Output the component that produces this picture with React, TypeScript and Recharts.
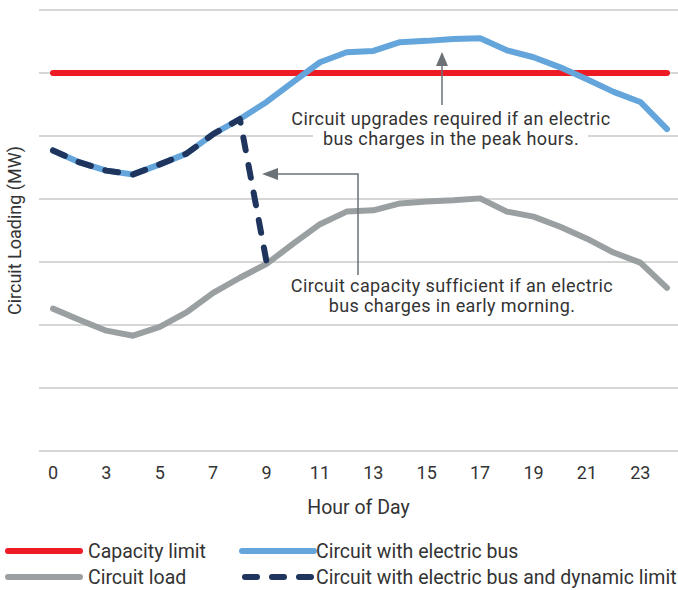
import React from 'react';
import { LineChart, Line, XAxis, YAxis, CartesianGrid } from 'recharts';

const hours = [0, 1, 2, 3, 4, 5, 6, 7, 8, 9, 10, 11, 12, 13, 14, 15, 16, 17, 18, 19, 20, 21, 22, 23];
const xTickLabels = ['0', '3', '5', '7', '9', '11', '13', '15', '17', '19', '21', '23'];
const yTicks = [0, 1, 2, 3, 4, 5, 6, 7];

const capacityLimit = [6, 6, 6, 6, 6, 6, 6, 6, 6, 6, 6, 6, 6, 6, 6, 6, 6, 6, 6, 6, 6, 6, 6, 6];
const circuitLoad = [2.26, 2.08, 1.91, 1.83, 1.97, 2.2, 2.51, 2.75, 2.97, 3.29, 3.6, 3.8, 3.82, 3.93, 3.96, 3.98, 4.01, 3.8, 3.72, 3.56, 3.37, 3.15, 2.99, 2.59];
const circuitWithBus = [4.77, 4.58, 4.45, 4.39, 4.55, 4.72, 5.03, 5.27, 5.54, 5.86, 6.17, 6.33, 6.35, 6.49, 6.51, 6.54, 6.55, 6.36, 6.25, 6.09, 5.9, 5.7, 5.54, 5.11];
const busDynamicLimit = [4.77, 4.58, 4.45, 4.39, 4.55, 4.72, 5.03, 5.27, 3.0, null, null, null, null, null, null, null, null, null, null, null, null, null, null, null];

const RED = '#ed1c24';
const BLUE = '#64a5db';
const GRAY = '#9a9fa1';
const NAVY = '#1f355e';
const TEXT = '#333333';
const ARROW = '#6b7277';
const FONT = 'Roboto, "Noto Sans", sans-serif';

const data = hours.map((h, i) => ({
  hour: h,
  limit: capacityLimit[i],
  load: circuitLoad[i],
  bus: circuitWithBus[i],
  dyn: busDynamicLimit[i],
}));

const legendItems = [
  { label: 'Capacity limit', color: RED, dashed: false, col: 0, row: 0 },
  { label: 'Circuit with electric bus', color: BLUE, dashed: false, col: 1, row: 0 },
  { label: 'Circuit load', color: GRAY, dashed: false, col: 0, row: 1 },
  { label: 'Circuit with electric bus and dynamic limit', color: NAVY, dashed: true, col: 1, row: 1 },
];

const annStyle = { fill: TEXT, fontSize: 18, fontFamily: FONT, letterSpacing: 0.4 };

export default function App() {
  return (
    <div style={{ position: 'absolute', left: 0, top: 0, width: 678, height: 590, background: '#fff', fontFamily: FONT }}>
      <LineChart width={678} height={530} data={data} margin={{ top: 10, right: 0, left: 0, bottom: 0 }}>
        <CartesianGrid vertical={false} stroke="#c8c8c8" strokeWidth={1.5} />
        <YAxis
          type="number"
          domain={[0, 7]}
          ticks={yTicks}
          width={39}
          tickFormatter={() => ''}
          tick={{ fill: 'transparent', fontSize: 1 }}
          axisLine={false}
          tickLine={false}
          label={{ value: 'Circuit Loading (MW)', angle: -90, position: 'center', dx: -5, style: { fill: TEXT, fontSize: 18, fontFamily: FONT } }}
        />
        <XAxis
          dataKey="hour"
          type="category"
          height={79}
          interval={1}
          padding={{ left: 14, right: 11 }}
          axisLine={false}
          tickLine={false}
          tickMargin={9}
          tick={{ fill: TEXT, fontSize: 18, fontFamily: FONT }}
          tickFormatter={(v: number) => xTickLabels[Math.round(v / 2)] ?? ''}
          label={{ value: 'Hour of Day', position: 'insideBottom', offset: 16, style: { fill: TEXT, fontSize: 19.5, fontFamily: FONT } }}
        />
        <Line dataKey="limit" stroke={RED} strokeWidth={6} dot={false} activeDot={false} isAnimationActive={false} strokeLinecap="round" type="linear" />
        <Line dataKey="load" stroke={GRAY} strokeWidth={6} dot={false} activeDot={false} isAnimationActive={false} strokeLinecap="round" strokeLinejoin="round" type="linear" />
        <Line dataKey="bus" stroke={BLUE} strokeWidth={6} dot={false} activeDot={false} isAnimationActive={false} strokeLinecap="round" strokeLinejoin="round" type="linear" />
        <Line dataKey="dyn" stroke={NAVY} strokeWidth={6} strokeDasharray="13 15" dot={false} activeDot={false} isAnimationActive={false} strokeLinecap="round" strokeLinejoin="round" type="linear" />
      </LineChart>

      <svg width={678} height={530} style={{ position: 'absolute', left: 0, top: 0, pointerEvents: 'none' }}>
        <rect x={313} y={129} width={275} height={18} fill="#fff" />
        <line x1={442} y1={105} x2={442} y2={64} stroke={ARROW} strokeWidth={1.5} />
        <polygon points="442,52 436,66 448,66" fill={ARROW} />
        <text x={451} y={125} textAnchor="middle" style={annStyle}>Circuit upgrades required if an electric</text>
        <text x={451} y={145} textAnchor="middle" style={annStyle}>bus charges in the peak hours.</text>

        <polyline points="358,275 358,174 276,174" fill="none" stroke={ARROW} strokeWidth={1.5} />
        <polygon points="262,174 278,168 278,180" fill={ARROW} />
        <text x={452} y={292} textAnchor="middle" style={annStyle}>Circuit capacity sufficient if an electric</text>
        <text x={452} y={312} textAnchor="middle" style={annStyle}>bus charges in early morning.</text>
      </svg>

      <svg width={678} height={60} style={{ position: 'absolute', left: 0, top: 530 }}>
        {legendItems.map((it) => {
          const x0 = it.col === 0 ? 8 : 242;
          const y = it.row === 0 ? 21 : 47;
          return (
            <g key={it.label}>
              {it.dashed ? (
                <line x1={x0 + 3} y1={y} x2={x0 + 69} y2={y} stroke={it.color} strokeWidth={6} strokeLinecap="round" strokeDasharray="12 15" />
              ) : (
                <line x1={x0} y1={y} x2={x0 + 72} y2={y} stroke={it.color} strokeWidth={6} strokeLinecap="round" />
              )}
              <text x={it.col === 0 ? 88 : 316} y={y + 7} fill={TEXT} fontSize={19.5} fontFamily={FONT}>{it.label}</text>
            </g>
          );
        })}
      </svg>
    </div>
  );
}
